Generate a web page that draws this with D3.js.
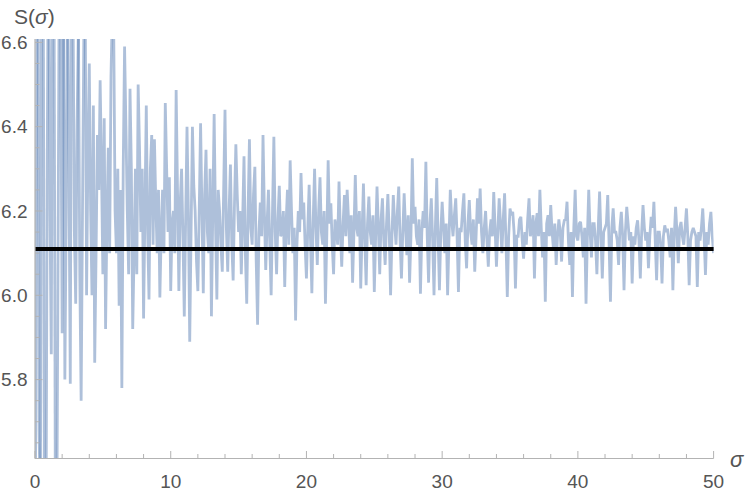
<!DOCTYPE html>
<html><head><meta charset="utf-8">
<script src="https://cdn.jsdelivr.net/npm/d3@7"></script>
<style>html,body{margin:0;padding:0;background:#fff;} svg{display:block}</style>
</head><body>
<svg id="c" width="747" height="494"></svg>
<script>
// sampling grid of sigma
const sigmaStart = 0, sigmaStep = 0.1;
// S(sigma) values, one row per unit of sigma
const sValues = [
 5.2, 6.2, 7.4, 5.67, 5.5, 7.0, 6.9, 5.4, 5.3, 6.3,
 7.0, 6.2, 5.86, 6.9, 6.8, 5.5, 5.4, 6.1, 6.9, 6.58,
 5.91, 6.7, 5.80, 6.2, 6.75, 6.3, 5.79, 6.9, 6.7, 6.15,
 5.98, 6.4, 6.65, 6.05, 5.75, 6.2, 6.62, 6.7, 6.0, 6.33,
 6.55, 6.2, 6.0, 6.45, 5.84, 6.1, 6.38, 6.25, 6.51, 6.3,
 6.05, 6.42, 5.92, 6.18, 6.35, 6.1, 6.52, 6.68, 6.63, 6.2,
 6.1, 6.3, 5.975, 6.25, 5.78, 6.3, 6.59, 6.4, 6.2, 6.05,
 6.49, 6.3, 5.92, 6.1, 6.3, 6.05, 6.50, 6.35, 6.15, 6.3,
 5.945, 6.2, 6.45, 6.15, 5.99, 6.3, 6.38, 6.12, 6.37, 6.22,
 6.1, 6.25, 5.995, 6.15, 6.25, 6.1, 6.456, 6.3, 6.15, 6.28,
 6.01, 6.17, 6.2, 6.1, 6.487, 6.25, 6.01, 6.22, 6.3, 6.14,
 5.95, 6.18, 6.40, 6.2, 5.89, 6.15, 6.40, 6.26, 6.2, 6.08,
 6.01, 6.2, 6.408, 6.2, 6.005, 6.24, 6.345, 6.15, 6.1, 6.3,
 5.95, 6.2, 6.43, 6.17, 5.99, 6.25, 6.2, 6.12, 6.056, 6.25,
 6.44, 6.16, 6.056, 6.2, 6.31, 6.12, 6.035, 6.22, 6.358, 6.24,
 6.15, 6.2, 6.05, 6.18, 6.33, 6.1, 5.98, 6.2, 6.37, 6.16,
 6.12, 6.24, 6.305, 6.08, 5.93, 6.15, 6.22, 6.14, 6.38, 6.2,
 6.06, 6.17, 6.25, 6.12, 6.0, 6.2, 6.376, 6.15, 6.05, 6.18,
 6.26, 6.14, 6.15, 6.2, 6.02, 6.17, 6.25, 6.12, 6.32, 6.2,
 6.1, 6.16, 5.94, 6.12, 6.2, 6.15, 6.29, 6.18, 6.22, 6.12,
 6.04, 6.16, 6.262, 6.13, 6.005, 6.18, 6.30, 6.16, 6.072, 6.2,
 6.28, 6.15, 6.12, 6.2, 5.98, 6.14, 6.32, 6.17, 6.218, 6.12,
 6.05, 6.18, 6.16, 6.12, 6.27, 6.15, 6.068, 6.17, 6.238, 6.14,
 6.25, 6.18, 6.1, 6.19, 6.03, 6.15, 6.285, 6.16, 6.14, 6.2,
 6.016, 6.15, 6.265, 6.13, 6.024, 6.17, 6.234, 6.15, 6.12, 6.19,
 6.008, 6.14, 6.258, 6.16, 6.05, 6.18, 6.23, 6.13, 6.072, 6.17,
 6.24, 6.15, 6.0, 6.14, 6.238, 6.17, 6.12, 6.2, 6.258, 6.13,
 6.04, 6.15, 6.242, 6.16, 6.095, 6.19, 6.03, 6.14, 6.325, 6.17,
 6.21, 6.14, 6.12, 6.18, 6.004, 6.15, 6.20, 6.16, 6.317, 6.14,
 6.03, 6.17, 6.23, 6.13, 6.0, 6.16, 6.278, 6.14, 6.012, 6.15,
 6.222, 6.16, 6.10, 6.17, 6.0, 6.13, 6.25, 6.18, 6.14, 6.19,
 6.23, 6.14, 6.008, 6.16, 6.15, 6.2, 6.242, 6.13, 6.064, 6.17,
 6.226, 6.15, 6.12, 6.18, 6.056, 6.14, 6.23, 6.17, 6.253, 6.15,
 6.10, 6.16, 6.20, 6.13, 6.068, 6.15, 6.18, 6.14, 6.245, 6.16,
 6.068, 6.15, 6.23, 6.17, 6.10, 6.18, 6.242, 6.13, 5.996, 6.14,
 6.206, 6.19, 6.198, 6.15, 6.016, 6.14, 6.14, 6.18, 6.186, 6.13,
 6.087, 6.15, 6.12, 6.18, 6.23, 6.14, 6.16, 6.19, 6.04, 6.17,
 6.195, 6.14, 6.25, 6.16, 6.09, 6.15, 5.985, 6.17, 6.19, 6.14,
 6.214, 6.15, 6.11, 6.17, 6.072, 6.14, 6.18, 6.15, 6.08, 6.16,
 6.178, 6.18, 6.222, 6.13, 6.072, 6.15, 5.996, 6.16, 6.25, 6.14,
 6.13, 6.17, 6.174, 6.14, 6.09, 6.16, 5.98, 6.14, 6.25, 6.15,
 6.09, 6.17, 6.17, 6.13, 6.05, 6.16, 6.246, 6.14, 6.04, 6.15,
 6.16, 6.17, 6.238, 6.12, 5.985, 6.16, 6.206, 6.15, 6.15, 6.13,
 6.072, 6.16, 6.198, 6.14, 6.012, 6.15, 6.21, 6.17, 6.13, 6.15,
 6.028, 6.14, 6.12, 6.16, 6.178, 6.13, 6.04, 6.15, 6.214, 6.16,
 6.13, 6.15, 6.064, 6.14, 6.186, 6.16, 6.222, 6.13, 6.036, 6.15,
 6.15, 6.12, 6.028, 6.14, 6.166, 6.15, 6.158, 6.13, 6.09, 6.16,
 6.012, 6.14, 6.21, 6.15, 6.076, 6.16, 6.174, 6.14, 6.12, 6.16,
 6.206, 6.14, 6.024, 6.13, 6.15, 6.16, 6.15, 6.14, 6.02, 6.15,
 6.13, 6.16, 6.206, 6.14, 6.048, 6.15, 6.12, 6.17, 6.198, 6.14,
 6.10
];
const meanLevel = 6.11;
const xTicks = [0, 10, 20, 30, 40, 50];
const yTicks = [5.8, 6.0, 6.2, 6.4, 6.6];
const xLabel = "σ";

(function () {
const svg = d3.select("#c");
const pL = 35, pR = 713.6, pT = 39, pB = 458.5;
const x = d3.scaleLinear().domain([0, 50]).range([pL, pR]);
const y = d3.scaleLinear().domain([5.6128, 6.608]).range([pB, pT]);
const [yMin, yMax] = y.domain();

svg.append("defs").append("clipPath").attr("id", "clip")
  .append("rect").attr("x", pL).attr("y", pT).attr("width", pR - pL).attr("height", pB - pT);

// data pieces (line split where it leaves the plot range)
const pts = sValues.map((v, i) => [sigmaStart + i * sigmaStep, v]);
const pieces = [];
let cur = [pts[0]];
for (let i = 1; i < pts.length; i++) {
  cur.push(pts[i]);
  const v = pts[i][1];
  if (v > yMax || v < yMin) { if (cur.length > 1) pieces.push(cur); cur = [pts[i]]; }
}
if (cur.length > 1) pieces.push(cur);

const line = d3.line().x(d => x(d[0])).y(d => y(d[1]));
const g = svg.append("g").attr("clip-path", "url(#clip)");
g.selectAll("path.s").data(pieces).join("path").attr("class", "s")
  .attr("d", line).attr("fill", "none")
  .attr("stroke", "rgb(94,129,181)").attr("stroke-opacity", 0.5)
  .attr("stroke-width", 2.8).attr("stroke-linejoin", "miter").attr("stroke-miterlimit", 2);

// mean line
svg.append("line").attr("x1", x(0)).attr("x2", x(50)).attr("y1", y(meanLevel)).attr("y2", y(meanLevel))
  .attr("stroke", "#000").attr("stroke-width", 4);

// axes
const axisColor = "#b3b3b3", labelColor = "#555";
svg.append("line").attr("x1", pL).attr("x2", pL).attr("y1", pT).attr("y2", pB).attr("stroke", axisColor).attr("stroke-width", 1.2);
svg.append("line").attr("x1", pL).attr("x2", pR).attr("y1", pB).attr("y2", pB).attr("stroke", axisColor).attr("stroke-width", 1.2);

const xMinor = d3.range(0, 50.01, 2).filter(v => xTicks.indexOf(v) < 0);
const yMinor = d3.range(5.65, 6.601, 0.05).filter(v => !yTicks.some(t => Math.abs(t - v) < 1e-6));

svg.selectAll("line.xt").data(xTicks).join("line").attr("class", "xt")
  .attr("x1", d => x(d)).attr("x2", d => x(d)).attr("y1", pB).attr("y2", pB - 7.5)
  .attr("stroke", axisColor);
svg.selectAll("line.xm").data(xMinor).join("line").attr("class", "xm")
  .attr("x1", d => x(d)).attr("x2", d => x(d)).attr("y1", pB).attr("y2", pB - 4.5)
  .attr("stroke", axisColor);
svg.selectAll("line.yt").data(yTicks).join("line").attr("class", "yt")
  .attr("y1", d => y(d)).attr("y2", d => y(d)).attr("x1", pL).attr("x2", pL + 7.5)
  .attr("stroke", axisColor);
svg.selectAll("line.ym").data(yMinor).join("line").attr("class", "ym")
  .attr("y1", d => y(d)).attr("y2", d => y(d)).attr("x1", pL).attr("x2", pL + 4.5)
  .attr("stroke", axisColor);

const font = "'Liberation Sans', Arial, sans-serif";
svg.selectAll("text.xl").data(xTicks).join("text").attr("class", "xl")
  .attr("x", d => x(d)).attr("y", 487.5).attr("text-anchor", "middle")
  .attr("font-family", font).attr("font-size", 19).attr("fill", labelColor).text(d => d);
svg.selectAll("text.yl").data(yTicks).join("text").attr("class", "yl")
  .attr("x", 27.5).attr("y", d => y(d) + 6.8).attr("text-anchor", "end")
  .attr("font-family", font).attr("font-size", 19).attr("fill", labelColor).text(d => d3.format(".1f")(d));

// axis labels
const yl = svg.append("text").attr("x", 14).attr("y", 24).attr("font-family", font).attr("font-size", 21).attr("fill", labelColor);
yl.append("tspan").text("S(");
yl.append("tspan").attr("font-style", "italic").text("σ");
yl.append("tspan").text(")");
svg.append("text").attr("x", 730).attr("y", 467).attr("font-family", font).attr("font-size", 22)
  .attr("font-style", "italic").attr("fill", labelColor).text(xLabel);
})();
</script>
</body></html>
